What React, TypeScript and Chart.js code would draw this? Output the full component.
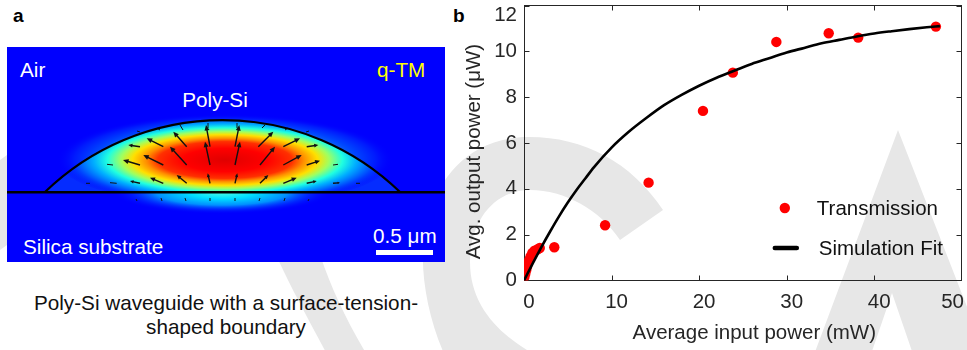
import React, { useEffect, useRef } from 'react';
import { Chart, registerables } from 'chart.js';

Chart.register(...registerables);

// ---------- data (panel b) ----------
const transmissionX = [0.05, 0.15, 0.25, 0.35, 0.45, 0.6, 0.75, 0.95, 1.2, 1.5, 1.8, 3.46, 9.26, 14.23, 20.44, 23.85, 28.82, 34.8, 38.17, 47.04];
const transmissionY = [0.15, 0.3, 0.45, 0.6, 0.75, 0.9, 1.05, 1.2, 1.3, 1.35, 1.42, 1.45, 2.41, 4.27, 7.4, 9.07, 10.41, 10.79, 10.6, 11.08];

const fitX = [0, 1, 2, 3, 4, 5, 6, 7, 8, 10, 12, 14, 16, 18, 20, 22, 24, 26, 28, 30, 32, 34, 36, 38, 40, 42, 44, 46, 47.5];
const fitY = [0, 0.75, 1.47, 2.15, 2.8, 3.4, 3.95, 4.45, 4.95, 5.8, 6.5, 7.1, 7.65, 8.1, 8.5, 8.85, 9.15, 9.45, 9.7, 9.95, 10.15, 10.35, 10.5, 10.65, 10.78, 10.88, 10.97, 11.05, 11.1];

const xTicks = [0, 10, 20, 30, 40, 50];
const yTicks = [0, 2, 4, 6, 8, 10, 12];

const seriesNames = ['Transmission', 'Simulation Fit'];
const xTitle = 'Average input power (mW)';
const yTitle = 'Avg. output power (\u03bcW)';

// ---------- panel a illustration (field arrows, tail -> head) ----------
const arrows: [number, number, number, number][] = [
  [140, 132, 137, 131], [160, 130, 157, 128], [183, 130, 180, 125], [208, 128, 208, 123],
  [237, 128, 237, 123], [262, 128, 265, 125], [285, 130, 288, 128], [306, 132, 309, 131],
  [140, 146.7, 128.3, 145], [163.3, 146.7, 146.7, 138.3], [186.7, 146.7, 173.3, 131.7], [210, 146.7, 206, 125],
  [235, 146.7, 239.3, 125], [258.3, 146.7, 273.3, 131.7], [283.3, 146.7, 300, 138.3], [306.7, 146.7, 318.3, 145],
  [113, 165, 107, 164.3], [140, 165, 123, 160], [163.3, 165, 143.3, 155], [186.7, 165, 170, 146.7],
  [210, 165, 205, 141.7], [235, 165, 240, 141.7], [260, 165, 275, 146.7], [283.3, 165, 301.7, 155],
  [306.7, 165, 320, 160.7], [333, 165, 338, 164.3],
  [90, 183.3, 86, 183.3], [116.7, 183.3, 110, 182.7], [140, 183.3, 130, 181], [163.3, 183.3, 150, 177.7],
  [186.7, 183.3, 176.7, 175], [210, 183.3, 207.7, 173.3], [235, 183.3, 237.3, 173.3], [260, 183.3, 268.3, 175],
  [283.3, 183.3, 296.7, 177.7], [306.7, 183.3, 316.7, 181], [333, 183.3, 340, 182.7], [356, 183.3, 360, 183.3],
  [137, 201, 136, 199], [162, 201, 161, 198], [186, 201, 185, 198], [210, 201, 210, 198],
  [235, 201, 235, 198], [259, 201, 260, 198], [284, 201, 285, 198], [308, 201, 309, 199],
];

const FONT = "'Liberation Sans', Arial, Helvetica, sans-serif";
const TXT = '#262626';
const FS = 20.5;

function Arrow({ a }: { a: [number, number, number, number] }) {
  const [x1, y1, x2, y2] = a;
  const dx = x2 - x1;
  const dy = y2 - y1;
  const len = Math.hypot(dx, dy);
  const ux = dx / len;
  const uy = dy / len;
  if (len < 7) {
    return <line x1={x1} y1={y1} x2={x2} y2={y2} stroke="#111" strokeWidth={1} />;
  }
  const h = Math.min(5.5, len * 0.35);
  const w = h * 0.45;
  const bx = x2 - ux * h;
  const by = y2 - uy * h;
  const pts = `${x2},${y2} ${bx - uy * w},${by + ux * w} ${bx + uy * w},${by - ux * w}`;
  return (
    <g>
      <line x1={x1} y1={y1} x2={bx + ux} y2={by + uy} stroke="#111" strokeWidth={1.4} />
      <polygon points={pts} fill="#111" />
    </g>
  );
}

const boxPlugin = {
  id: 'matlabBox',
  beforeDatasetsDraw(chart: any) {
    const { ctx, chartArea } = chart;
    const l = Math.floor(chartArea.left) + 0.5;
    const r = Math.ceil(chartArea.right) - 0.5;
    const t = Math.floor(chartArea.top) + 0.5;
    const b = Math.floor(chartArea.bottom) + 0.5;
    ctx.save();
    ctx.strokeStyle = TXT;
    ctx.lineWidth = 1;
    ctx.strokeRect(l, t, r - l, b - t);
    const tl = 5;
    const xs = chart.scales.x;
    const ys = chart.scales.y;
    ctx.beginPath();
    xs.ticks.forEach((tk: any) => {
      const p = Math.round(xs.getPixelForValue(tk.value)) + 0.5;
      if (p <= l || p >= r) return;
      ctx.moveTo(p, b);
      ctx.lineTo(p, b - tl);
      ctx.moveTo(p, t);
      ctx.lineTo(p, t + tl);
    });
    ys.ticks.forEach((tk: any) => {
      const p = Math.round(ys.getPixelForValue(tk.value)) + 0.5;
      if (p <= t || p >= b) return;
      ctx.moveTo(l, p);
      ctx.lineTo(l + tl, p);
      ctx.moveTo(r, p);
      ctx.lineTo(r - tl, p);
    });
    ctx.stroke();
    ctx.restore();
  },
};

const legendPlugin = {
  id: 'insideLegend',
  afterDraw(chart: any) {
    const { ctx, chartArea } = chart;
    const ds = chart.data.datasets;
    const x0 = chartArea.right - 177;
    ctx.save();
    ctx.font = `${FS}px ${FONT}`;
    ctx.textBaseline = 'middle';
    ctx.textAlign = 'left';
    ctx.fillStyle = ds[0].backgroundColor;
    ctx.beginPath();
    ctx.arc(x0, 208, 5.2, 0, Math.PI * 2);
    ctx.fill();
    ctx.fillStyle = '#111';
    ctx.fillText(ds[0].label, x0 + 32, 209);
    ctx.strokeStyle = ds[1].borderColor;
    ctx.lineWidth = 4.5;
    ctx.lineCap = 'round';
    ctx.beginPath();
    ctx.moveTo(x0 - 10, 248);
    ctx.lineTo(x0 + 12, 248);
    ctx.stroke();
    ctx.fillText(ds[1].label, x0 + 34, 249);
    ctx.restore();
  },
};

function PowerChart() {
  const ref = useRef<HTMLCanvasElement | null>(null);
  useEffect(() => {
    if (!ref.current) return;
    const font = { family: FONT, size: FS, lineHeight: 1.2 };
    const chart = new Chart(ref.current, {
      type: 'scatter',
      data: {
        datasets: [
          {
            label: seriesNames[0],
            data: transmissionX.map((x, i) => ({ x, y: transmissionY[i] })),
            backgroundColor: '#ff0000',
            borderColor: '#ff0000',
            pointRadius: 5.2,
            pointBorderWidth: 0,
            showLine: false,
            order: 1,
          } as any,
          {
            label: seriesNames[1],
            type: 'line',
            data: fitX.map((x, i) => ({ x, y: fitY[i] })),
            borderColor: '#000000',
            backgroundColor: '#000000',
            borderWidth: 2.6,
            pointRadius: 0,
            showLine: true,
            fill: false,
            cubicInterpolationMode: 'monotone',
            order: 0,
          } as any,
        ],
      },
      options: {
        responsive: false,
        animation: false,
        layout: { padding: { top: 5.5, left: 0, right: 0, bottom: 0 } },
        plugins: { legend: { display: false }, tooltip: { enabled: false } },
        scales: {
          x: {
            type: 'linear',
            min: 0,
            max: 50,
            afterBuildTicks: (s: any) => {
              s.ticks = xTicks.map((v) => ({ value: v }));
            },
            afterFit: (s: any) => {
              s.height = 69.5;
              s.paddingLeft = 0;
              s.paddingRight = 0;
            },
            grid: { display: false, drawTicks: false },
            border: { display: false },
            ticks: {
              font,
              color: TXT,
              padding: 10,
              labelOffset: 5,
              maxRotation: 0,
              autoSkip: false,
              callback: (v: any) => (v === 50 ? '50     ' : String(v)),
            },
            title: {
              display: true,
              text: '    ' + xTitle,
              font,
              color: TXT,
              padding: { top: 0, bottom: 4 },
            },
          },
          y: {
            type: 'linear',
            min: 0,
            max: 12,
            afterBuildTicks: (s: any) => {
              s.ticks = yTicks.map((v) => ({ value: v }));
            },
            afterFit: (s: any) => {
              s.width = 74;
              s.paddingTop = 0;
              s.paddingBottom = 0;
            },
            grid: { display: false, drawTicks: false },
            border: { display: false },
            ticks: {
              font: { family: FONT, size: FS, lineHeight: 1.0 },
              color: TXT,
              padding: 7,
              autoSkip: false,
              callback: (v: any) => (v === 12 ? ['', '12'] : String(v)),
            },
            title: {
              display: true,
              text: yTitle + '   ',
              font,
              color: TXT,
              padding: { top: 12, bottom: 0 },
            },
          },
        },
      } as any,
      plugins: [boxPlugin, legendPlugin],
    });
    return () => chart.destroy();
  }, []);
  return (
    <canvas
      ref={ref}
      width={517}
      height={350}
      style={{ position: 'absolute', left: 450, top: 0, width: 517, height: 350, display: 'block' }}
    />
  );
}

export default function App() {
  const grey = '#e7e7e7';
  const guide = 'M45 192.3 A255 255 0 0 1 400 192.3 Z';
  return (
    <div
      style={{
        position: 'absolute',
        left: 0,
        top: 0,
        width: 967,
        height: 350,
        overflow: 'hidden',
        background: '#ffffff',
      }}
    >
      <svg width={967} height={350} style={{ position: 'absolute', left: 0, top: 0 }}>
        <defs>
          <radialGradient id="fieldUp" cx="0.5" cy="0.5" r="0.5">
            <stop offset="0" stopColor="#e00000" />
            <stop offset="0.25" stopColor="#ff0000" />
            <stop offset="0.4" stopColor="#ff3000" />
            <stop offset="0.47" stopColor="#ff9000" />
            <stop offset="0.55" stopColor="#ffe000" />
            <stop offset="0.62" stopColor="#a0ff60" />
            <stop offset="0.7" stopColor="#20ffe0" />
            <stop offset="0.78" stopColor="#00b0ff" />
            <stop offset="0.9" stopColor="#0040ff" />
            <stop offset="1" stopColor="#0000fe" stopOpacity="0" />
          </radialGradient>
          <radialGradient id="fieldDown" cx="0.5" cy="0.5" r="0.5">
            <stop offset="0" stopColor="#50ffe0" />
            <stop offset="0.3" stopColor="#00e0ff" />
            <stop offset="0.6" stopColor="#0090ff" />
            <stop offset="1" stopColor="#0000fe" stopOpacity="0" />
          </radialGradient>
          <clipPath id="panelClip">
            <rect x={7} y={47} width={438} height={215} />
          </clipPath>
          <clipPath id="upClip">
            <rect x={7} y={47} width={438} height={145.3} />
          </clipPath>
          <clipPath id="guideClip">
            <path d={guide} />
          </clipPath>
          <clipPath id="downClip">
            <rect x={7} y={192.3} width={438} height={70} />
          </clipPath>
        </defs>
        {/* watermark */}
        <path
          d="M663 210 C630 160 580 135 523 137 C470 140 440 175 430 215 C415 250 425 315 447 360 L545 360 C505 340 470 310 470 262 C470 220 495 190 530 190 C565 190 600 210 620 240 Z"
          fill={grey}
        />
        <path d="M276 255 L320 255 C332 290 347 322 370 360 L330 360 C310 322 292 290 276 255 Z" fill={grey} />
        <path d="M0 160 L7 155 L7 245 L0 250 Z" fill={grey} />
        <path d="M898 130 L812 360 L869 360 L892 293 L915 360 L980 360 L980 340 Z" fill={grey} />

        {/* panel a */}
        <rect x={7} y={47} width={438} height={215} fill="#0000fe" />
        <g clipPath="url(#panelClip)">
          <path d={guide} fill="#0a50ff" opacity={0.55} />
          <g clipPath="url(#upClip)">
            <ellipse cx={225} cy={160} rx={168} ry={46} fill="url(#fieldUp)" opacity={0.4} />
          </g>
          <g clipPath="url(#guideClip)">
            <ellipse cx={225} cy={160} rx={168} ry={46} fill="url(#fieldUp)" />
          </g>
          <g clipPath="url(#downClip)">
            <ellipse cx={222} cy={192} rx={110} ry={22} fill="url(#fieldDown)" />
          </g>
          {arrows.map((a, i) => (
            <Arrow key={i} a={a} />
          ))}
          <path d="M45 192 A255 255 0 0 1 400 192" fill="none" stroke="#000" strokeWidth={2.2} />
          <line x1={7} y1={192.3} x2={445} y2={192.3} stroke="#000" strokeWidth={2.4} />
        </g>
        <g fontFamily={FONT} fontSize={20.7}>
          <text x={20} y={77} fill="#ffffff">Air</text>
          <text x={377} y={77} fill="#ffff00">q-TM</text>
          <text x={215} y={107} fill="#ffffff" textAnchor="middle">Poly-Si</text>
          <text x={23} y={254} fill="#ffffff">Silica substrate</text>
          <text x={373} y={243} fill="#ffffff">0.5 μm</text>
          <text x={226} y={310} fill="#111111" textAnchor="middle">Poly-Si waveguide with a surface-tension-</text>
          <text x={226} y={334} fill="#111111" textAnchor="middle">shaped boundary</text>
        </g>
        <rect x={376} y={250} width={57} height={5} fill="#ffffff" />
        <text x={13} y={22} fontFamily={FONT} fontSize={19} fontWeight="bold" fill="#000">a</text>
        <text x={453} y={22} fontFamily={FONT} fontSize={19} fontWeight="bold" fill="#000">b</text>
      </svg>
      <PowerChart />
    </div>
  );
}
